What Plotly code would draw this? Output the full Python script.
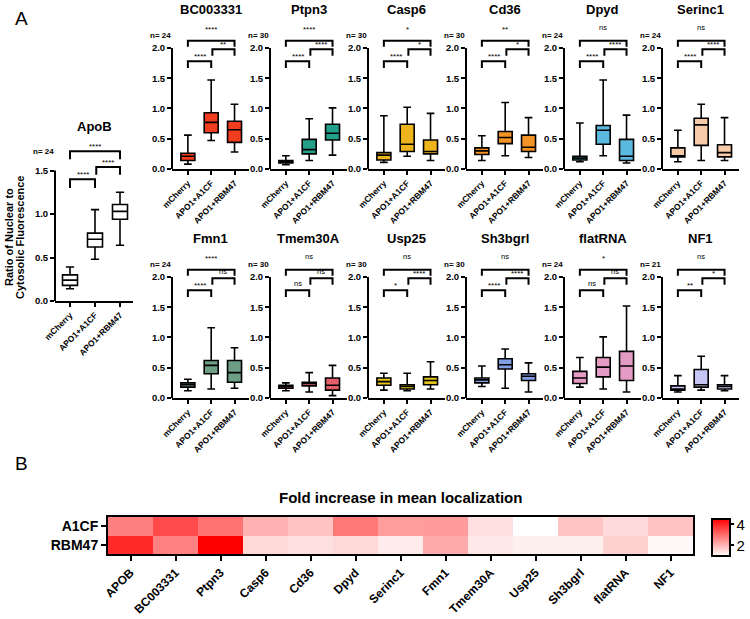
import plotly.graph_objects as go

W, H = 750, 619
FONT = "Liberation Sans, Arial, sans-serif"

GROUPS = ["mCherry", "APO1+A1CF", "APO1+RBM47"]
GENES = ["ApoB", "BC003331", "Ptpn3", "Casp6", "Cd36", "Dpyd", "Serinc1",
         "Fmn1", "Tmem30A", "Usp25", "Sh3bgrl", "flatRNA", "NF1"]
N_CELLS = [24, 24, 30, 30, 30, 24, 24, 24, 30, 30, 30, 24, 21]

# box statistics per gene: [mCherry, APO1+A1CF, APO1+RBM47]
LOWER = [[0.14, 0.48, 0.64], [0.08, 0.47, 0.28], [0.07, 0.14, 0.23],
         [0.11, 0.21, 0.14], [0.14, 0.22, 0.19], [0.12, 0.22, 0.10],
         [0.12, 0.14, 0.14], [0.12, 0.15, 0.16], [0.12, 0.10, 0.04],
         [0.13, 0.12, 0.15], [0.19, 0.16, 0.10], [0.18, 0.15, 0.10],
         [0.10, 0.13, 0.12]]
Q1 = [[0.18, 0.62, 0.94], [0.14, 0.60, 0.44], [0.10, 0.25, 0.48],
      [0.15, 0.29, 0.25], [0.24, 0.42, 0.29], [0.15, 0.41, 0.14],
      [0.20, 0.39, 0.20], [0.18, 0.40, 0.26], [0.16, 0.20, 0.13],
      [0.21, 0.15, 0.22], [0.25, 0.48, 0.29], [0.24, 0.35, 0.29],
      [0.13, 0.18, 0.15]]
MEDIAN = [[0.24, 0.71, 1.03], [0.21, 0.77, 0.65], [0.12, 0.32, 0.59],
          [0.23, 0.41, 0.29], [0.30, 0.52, 0.36], [0.18, 0.64, 0.21],
          [0.21, 0.73, 0.27], [0.22, 0.54, 0.42], [0.19, 0.24, 0.21],
          [0.27, 0.19, 0.29], [0.30, 0.55, 0.36], [0.33, 0.51, 0.53],
          [0.15, 0.22, 0.19]]
Q3 = [[0.30, 0.78, 1.11], [0.26, 0.93, 0.79], [0.14, 0.49, 0.74],
      [0.27, 0.74, 0.48], [0.35, 0.62, 0.56], [0.21, 0.72, 0.49],
      [0.35, 0.84, 0.40], [0.25, 0.62, 0.62], [0.21, 0.26, 0.33],
      [0.33, 0.22, 0.35], [0.33, 0.65, 0.40], [0.44, 0.67, 0.77],
      [0.20, 0.47, 0.22]]
UPPER = [[0.39, 1.05, 1.25], [0.56, 1.47, 1.07], [0.22, 0.83, 1.01],
         [0.88, 1.02, 0.92], [0.55, 1.10, 0.85], [0.76, 1.47, 0.89],
         [0.64, 1.07, 0.85], [0.31, 1.16, 0.83], [0.25, 0.42, 0.54],
         [0.41, 0.41, 0.60], [0.53, 0.81, 0.58], [0.67, 1.01, 1.52],
         [0.37, 0.69, 0.37]]

SIG_LEFT = ["****", "****", "****", "****", "****", "****", "****", "****", "ns", "*", "****", "ns", "**"]
SIG_RIGHT = ["****", "**", "****", "*", "*", "****", "****", "ns", "ns", "****", "****", "ns", "*"]
SIG_TOP = ["****", "****", "****", "*", "**", "ns", "ns", "****", "ns", "ns", "ns", "*", "ns"]

BOX_COLORS = ["#FFFFFF", "#F03C1F", "#23A08A", "#EDB41C", "#F39325", "#5BB8DE",
              "#F8CBA8", "#6E9F85", "#E45F6A", "#E3C21B", "#819EE3", "#E49BC4", "#C5C6F4"]

HEAT_GENES = ["APOB", "BC003331", "Ptpn3", "Casp6", "Cd36", "Dpyd", "Serinc1",
              "Fmn1", "Tmem30A", "Usp25", "Sh3bgrl", "flatRNA", "NF1"]
FOLD_A1CF = [2.74, 3.47, 2.92, 2.06, 1.82, 2.85, 2.35, 2.37, 1.43, 1.0, 1.80, 1.51, 1.82]
FOLD_RBM47 = [3.92, 2.73, 4.5, 1.54, 1.43, 1.54, 1.27, 2.17, 1.32, 1.21, 1.20, 1.62, 1.10]

Y_TITLE_LINES = ["Ratio of Nuclear to", "Cytosolic Fluorescence"]


def px(xp):
    return xp / W


def py(yp):
    return 1 - yp / H


def label(xp, yp, text, **kw):
    d = dict(x=px(xp), y=py(yp), xref="paper", yref="paper", text=text,
             showarrow=False, xanchor="center", yanchor="middle")
    d.update(kw)
    return d


fig = go.Figure()
layout = {}
shapes = []
annotations = []
bold = dict(family=FONT, color="black", weight="bold")

for k, gene in enumerate(GENES):
    idx = k + 1
    xa = "x" if idx == 1 else f"x{idx}"
    ya = "y" if idx == 1 else f"y{idx}"
    if k == 0:
        left, zero, ppu, ytop, axis_top, width_px = 55, 301, 87.0, 1.8, 1.5, 78
        xr = [-0.6, 2.52]
        bars = (1.40, 1.30, 1.54, 1.45, 1.72, 1.63)
        offs = (7, 7, 7)
        title_y, n_y = 126, 152
    else:
        j = (k - 1) % 6
        row = (k - 1) // 6
        left = 172 + 98 * j
        zero = 169 + 229 * row
        ppu, ytop, axis_top, width_px = 60.5, 2.25, 2.0, 77
        xr = [-0.68, 2.62]
        bars = (1.78, 1.67, 1.98, 1.87, 2.12, 2.02)
        offs = (7, 7, 13)
        title_y, n_y = 10 + 229 * row, 35 + 229 * row

    for g in range(3):
        fig.add_trace(go.Box(
            x=[g], q1=[Q1[k][g]], median=[MEDIAN[k][g]], q3=[Q3[k][g]],
            lowerfence=[LOWER[k][g]], upperfence=[UPPER[k][g]],
            width=0.6, whiskerwidth=0.55, boxpoints=False,
            fillcolor=BOX_COLORS[k], line=dict(color="black", width=1.6),
            xaxis=xa, yaxis=ya, showlegend=False, hoverinfo="skip"))

    ticks = [v / 2 for v in range(int(axis_top * 2) + 1)]
    layout["xaxis" if idx == 1 else f"xaxis{idx}"] = dict(
        domain=[px(left), px(left + width_px)], anchor=ya, range=xr, automargin=False,
        tickvals=[0, 1, 2], ticktext=GROUPS, tickangle=-45,
        tickfont=dict(size=8.5, **bold), ticks="outside", ticklen=4, tickwidth=1.5,
        tickcolor="black", showline=True, linecolor="black", linewidth=2,
        showgrid=False, zeroline=False)
    layout["yaxis" if idx == 1 else f"yaxis{idx}"] = dict(
        domain=[py(zero), py(zero - ppu * ytop)], anchor=xa, range=[0, ytop],
        automargin=False, tickvals=ticks, ticktext=[f"{t:.1f}" for t in ticks],
        tickfont=dict(size=9.5, **bold), ticks="outside", ticklen=4, tickwidth=2,
        tickcolor="black", showline=False, showgrid=False, zeroline=False)
    # y axis line only up to the last tick
    shapes.append(dict(type="line", xref=f"{xa} domain", yref=ya, x0=0, x1=0,
                       y0=0, y1=axis_top, line=dict(color="black", width=2)))

    # significance brackets
    lb, ll, rb, rl, tb, tl = bars
    for (x0, x1, yb, yl, txt, off) in [
            (0, 1, lb, ll, SIG_LEFT[k], offs[0]),
            (1.05, 2, rb, rl, SIG_RIGHT[k], offs[1]),
            (0, 2, tb, tl, SIG_TOP[k], offs[2])]:
        shapes.append(dict(type="path", xref=xa, yref=ya,
                           path=f"M {x0},{yl} L {x0},{yb} L {x1},{yb} L {x1},{yl}",
                           line=dict(color="black", width=2)))
        shift = off if txt == "ns" else off - 2
        annotations.append(dict(x=(x0 + x1) / 2, y=yb, xref=xa, yref=ya,
                                text=txt, showarrow=False, xanchor="center",
                                yanchor="middle", yshift=shift,
                                font=dict(family=FONT, size=7.5 if txt == "ns" else 8,
                                          color="black")))

    annotations.append(label(left + width_px / 2, title_y, gene, font=dict(size=13, **bold)))
    annotations.append(label(left + 1, n_y, f"n= {N_CELLS[k]}", xanchor="right",
                             font=dict(size=8, **bold)))

# y axis title for ApoB (two rotated lines)
for line_x, line_text in zip([9, 20], Y_TITLE_LINES):
    annotations.append(label(line_x, 237, line_text, textangle=-90,
                             font=dict(size=11, **bold)))

# heatmap
fig.add_trace(go.Heatmap(
    x=HEAT_GENES, y=["RBM47", "A1CF"], z=[FOLD_RBM47, FOLD_A1CF],
    zmin=1, zmax=4.5, colorscale=[[0, "#FFFFFF"], [1, "#FF0000"]],
    xaxis="x14", yaxis="y14", xgap=0, ygap=0, hoverinfo="skip",
    colorbar=dict(x=px(712), xanchor="left", y=py(537.5), yanchor="middle",
                  len=37, lenmode="pixels", thickness=18, thicknessmode="pixels",
                  xpad=0, ypad=0, outlinewidth=2, outlinecolor="black",
                  tickvals=[2, 4], ticks="outside", ticklen=3, tickwidth=2,
                  tickcolor="black", tickfont=dict(family=FONT, size=15, color="black"))))
layout["xaxis14"] = dict(domain=[px(108), px(693)], anchor="y14", automargin=False,
                         tickangle=-45, tickfont=dict(size=12, **bold),
                         ticks="outside", ticklen=5, tickwidth=2, tickcolor="black",
                         showline=True, mirror=True, linecolor="black", linewidth=2,
                         showgrid=False, zeroline=False)
layout["yaxis14"] = dict(domain=[py(554), py(517)], anchor="x14", automargin=False,
                         tickfont=dict(size=14, **bold),
                         ticks="outside", ticklen=5, tickwidth=2, tickcolor="black",
                         showline=True, mirror=True, linecolor="black", linewidth=2,
                         showgrid=False, zeroline=False)

annotations.append(label(400, 497, "Fold increase in mean localization",
                         font=dict(size=15, **bold)))
annotations.append(label(21, 18, "A", font=dict(family=FONT, size=19, color="black")))
annotations.append(label(21, 463, "B", font=dict(family=FONT, size=19, color="black")))

fig.update_layout(width=W, height=H, margin=dict(l=0, r=0, t=0, b=0, autoexpand=False),
                  paper_bgcolor="white", plot_bgcolor="white",
                  font=dict(family=FONT, color="black"),
                  shapes=shapes, annotations=annotations, showlegend=False, **layout)

fig.write_html("out.html", config={"displayModeBar": False},
               post_script="document.body.style.margin='0';")
